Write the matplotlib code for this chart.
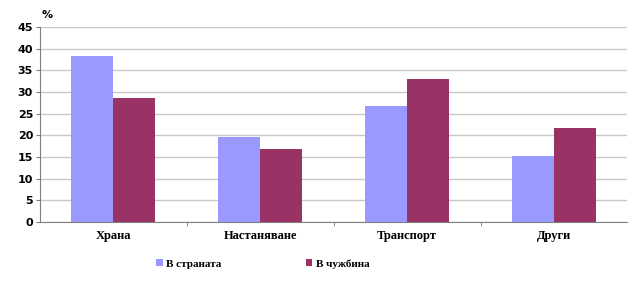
import matplotlib
matplotlib.use('Agg')
import matplotlib.pyplot as plt
import numpy as np

categories = ['Храна', 'Настаняване', 'Транспорт', 'Други']
domestic = [38.3, 19.7, 26.8, 15.2]
abroad = [28.6, 16.8, 32.9, 21.7]
series_names = ['В страната', 'В чужбина']
yticks = [0, 5, 10, 15, 20, 25, 30, 35, 40, 45]

blue = '#9999ff'
plum = '#993366'

fig = plt.figure(figsize=(6.42, 2.84), dpi=100)
ax = fig.add_axes([0.0623, 0.218, 0.915, 0.687])

x = np.arange(len(categories))
w = 0.286
ax.bar(x - w / 2, domestic, w, color=blue, label=series_names[0], zorder=3)
ax.bar(x + w / 2, abroad, w, color=plum, label=series_names[1], zorder=3)

ax.set_xlim(-0.5, len(categories) - 0.5)
ax.set_ylim(0, 45)
ax.set_yticks(yticks)
ax.set_yticklabels([str(t) for t in yticks], fontsize=8, fontweight='bold',
                   family='DejaVu Sans')
ax.yaxis.grid(True, color='#c8c8c8', linewidth=1, zorder=0)

ax.set_xticks(x)
ax.set_xticklabels(categories, fontsize=9, fontweight='bold', family='Liberation Serif')
ax.tick_params(axis='x', length=0, pad=6)
ax.set_xticks(np.arange(0.5, len(categories) - 0.5), minor=True)
ax.tick_params(axis='x', which='minor', length=3, direction='out', color='#808080')
ax.tick_params(axis='y', length=3, color='#808080', pad=2)

for s in ['top', 'right']:
    ax.spines[s].set_visible(False)
for s in ['left', 'bottom']:
    ax.spines[s].set_color('#808080')

ax.text(0.003, 1.035, '%', transform=ax.transAxes, fontsize=8, fontweight='bold',
        family='DejaVu Sans', ha='left', va='bottom')

leg = fig.legend(loc='center', bbox_to_anchor=(0.409, 0.07), ncol=2, frameon=False,
                 prop={'family': 'Liberation Serif', 'weight': 'bold', 'size': 8},
                 handlelength=0.6, handleheight=0.6, handletextpad=0.3,
                 columnspacing=7.6)

fig.savefig('out.png', dpi=100)
